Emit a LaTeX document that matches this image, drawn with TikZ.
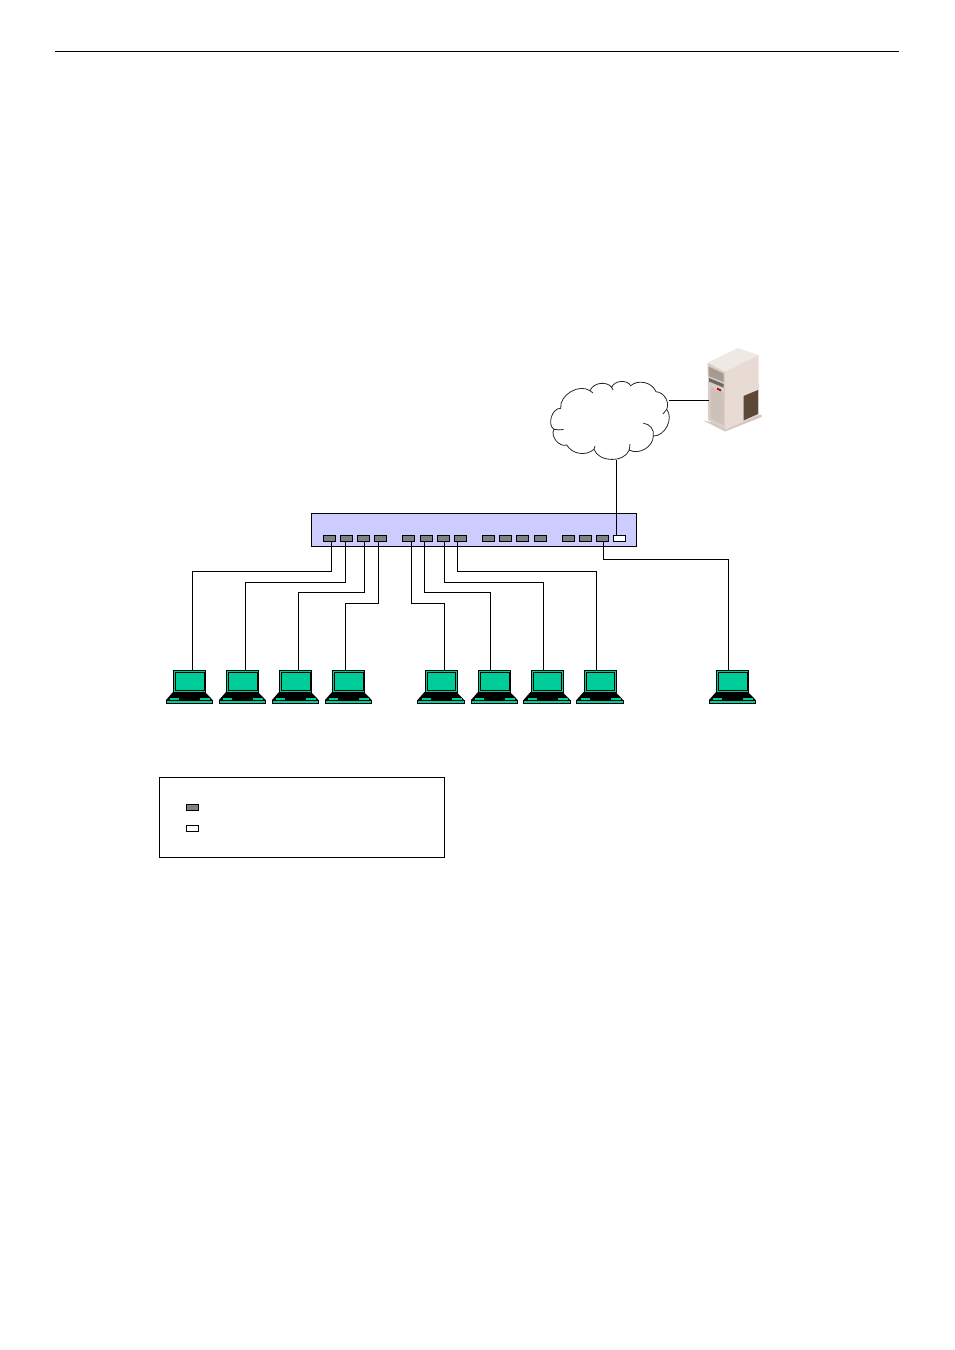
\documentclass[tikz,border=0pt]{standalone}
\definecolor{lapteal}{HTML}{00CC99}
\definecolor{swblue}{HTML}{CCCCFF}
\definecolor{srvtop}{HTML}{EFE9E4}
\definecolor{srvside}{HTML}{E7DBD4}
\definecolor{srvfront}{HTML}{D8CDC7}
\definecolor{srvdoor}{HTML}{CDC1BA}
\definecolor{srvpanel}{HTML}{A89A90}
\definecolor{srvvent}{HTML}{5C4739}
\definecolor{srvbase}{HTML}{D2C6BF}
\tikzset{
    port/.style={draw=black, fill=black!50, line width=0.9pt, minimum width=12pt, minimum height=6pt, inner sep=0pt},
    uplink/.style={port, fill=white},
    wire/.style={line width=0.9pt},
    pics/laptop/.style={code={
        \fill[black] (7,22) -- (39,22) -- (46.7,30) -- (0,30) -- cycle;
        \fill[lapteal] (4,27.5) rectangle (13,30);
        \fill[lapteal] (34,27.5) rectangle (44,30);
        \draw[fill=lapteal, line width=0.9pt] (0.4,30) rectangle (46.5,33.5);
        \draw[fill=lapteal, line width=0.9pt] (7.5,0.4) rectangle (39.5,22);
        \draw[line width=0.9pt] (9.8,2.6) rectangle (38,20.4);
        \coordinate (-top) at (23.5,0);
    }}
}
\begin{document}
\begin{tikzpicture}[x=1pt, y=-1pt]
    \useasboundingbox (0,0) rectangle (954,1350);
    \draw[line width=0.8pt] (55,51.5) -- (899,51.5);

    % switch and its ports
    \node[draw=black, fill=swblue, line width=0.9pt, minimum width=325pt, minimum height=33pt, inner sep=0pt] (switch) at (474,530) {};
    \foreach \prt/\x in {1/329.5, 2/346.5, 3/363.5, 4/380.5, 5/408.5, 6/426, 7/443, 8/460, 9/488.5, 10/505.5, 11/522.5, 12/540, 13/568, 14/585, 15/602.5} {
        \node[port] (port\prt) at (\x,538.5) {};
    }
    \node[uplink] (port16) at (619.5,538.5) {};

    % laptops
    \foreach \lap/\x in {1/166, 2/219, 3/272, 4/325, 5/417.5, 6/471, 7/523.5, 8/576.5, 9/709} {
        \pic (lap\lap) at (\x,670) {laptop};
    }

    % wires from ports to laptops
    \foreach \prt/\lap/\px/\lev/\lx in {1/1/2/571.5/2.5, 2/2/-1/582.5/2.5, 3/3/1/592.5/2.5, 4/4/-2/603/-3, 5/5/2.5/603/3.5, 6/6/-1.5/592.5/-4, 7/7/1.5/582.5/-3.5, 8/8/-3/571.5/-3.5, 15/9/1/559/-4} {
        \coordinate (up) at ([xshift=\px pt]port\prt.south);
        \coordinate (dn) at ([xshift=\lx pt]lap\lap-top);
        \draw[wire] (up) -- (up |- 0,\lev) -| (dn);
    }

    % cloud
    \draw[line width=0.8pt, black!85] (590,390.7) to[bend left=60] (611.7,387.3) to[bend left=65] (630.7,385.7)
        to[bend left=55] (656,391.7) to[bend left=55] (666.7,409.3) to[bend left=65] (653.3,436)
        to[bend left=60] (629.3,450) to[bend left=70] (594,449.3) to[bend left=50] (566.7,445)
        to[bend left=70] (554,429.3) to[bend left=75] (560.7,408.3) to[bend left=65] cycle;
    \draw[line width=0.8pt, black!85] (643.3,423.3) to[bend left=50] (653.3,436);
    \draw[line width=0.8pt, black!85] (563.5,429.5) to[bend left=10] (554,429.3);
    \draw[line width=0.8pt, black!85] (629.3,450) to[bend right=15] (630,444);
    \draw[line width=0.8pt, black!85] (594,449.3) to[bend left=15] (595,446);
    \draw[line width=0.8pt, black!85] (590,390.7) to[bend right=15] (593,393);
    \draw[line width=0.8pt, black!85] (611.7,387.3) to[bend right=15] (613,390);
    \draw[line width=0.8pt, black!85] (666.7,409.3) to[bend left=15] (663,414);

    % server
    \fill[srvbase] (703.5,420.5) -- (725,431.5) -- (761.5,417) -- (761.5,414.5) -- (725,425) -- cycle;
    \fill[srvtop] (707.7,362.7) -- (737.7,348) -- (758.5,355) -- (725,372) -- cycle;
    \fill[srvside] (725,372) -- (758.5,355) -- (759,415) -- (725,430) -- cycle;
    \fill[srvfront] (707.7,362.7) -- (725,372) -- (725,430) -- (708,420) -- cycle;
    \fill[srvpanel] (708.5,366.5) -- (723.5,373.5) -- (723.5,382) -- (708.5,376) -- cycle;
    \fill[black!50!srvfront] (709,378) -- (723.5,384) -- (723.5,387.5) -- (709,381.5) -- cycle;
    \fill[red!70!black] (717,387.5) -- (721,389.5) -- (721,391.5) -- (717,389.5) -- cycle;
    \fill[srvdoor] (710.7,386.7) -- (723.5,393) -- (723.5,425) -- (710.7,418.5) -- cycle;
    \fill[srvvent] (743.5,396) -- (758,390) -- (758,414) -- (743.5,420.5) -- cycle;

    % links to the cloud
    \coordinate (cloudS) at (616.5,459.5);
    \coordinate (cloudE) at (669,400.5);
    \coordinate (serverW) at (709,400.5);
    \draw[wire] (cloudS) -- (cloudS |- port16.north);
    \draw[wire] (cloudE) -- (serverW);

    % legend
    \node[draw=black, line width=0.9pt, minimum width=285pt, minimum height=80pt, inner sep=0pt] (legend) at (302,817.3) {};
    \node[port] (legendA) at (192,807.3) {};
    \node[uplink] (legendB) at (192,828.5) {};
\end{tikzpicture}
\end{document}
